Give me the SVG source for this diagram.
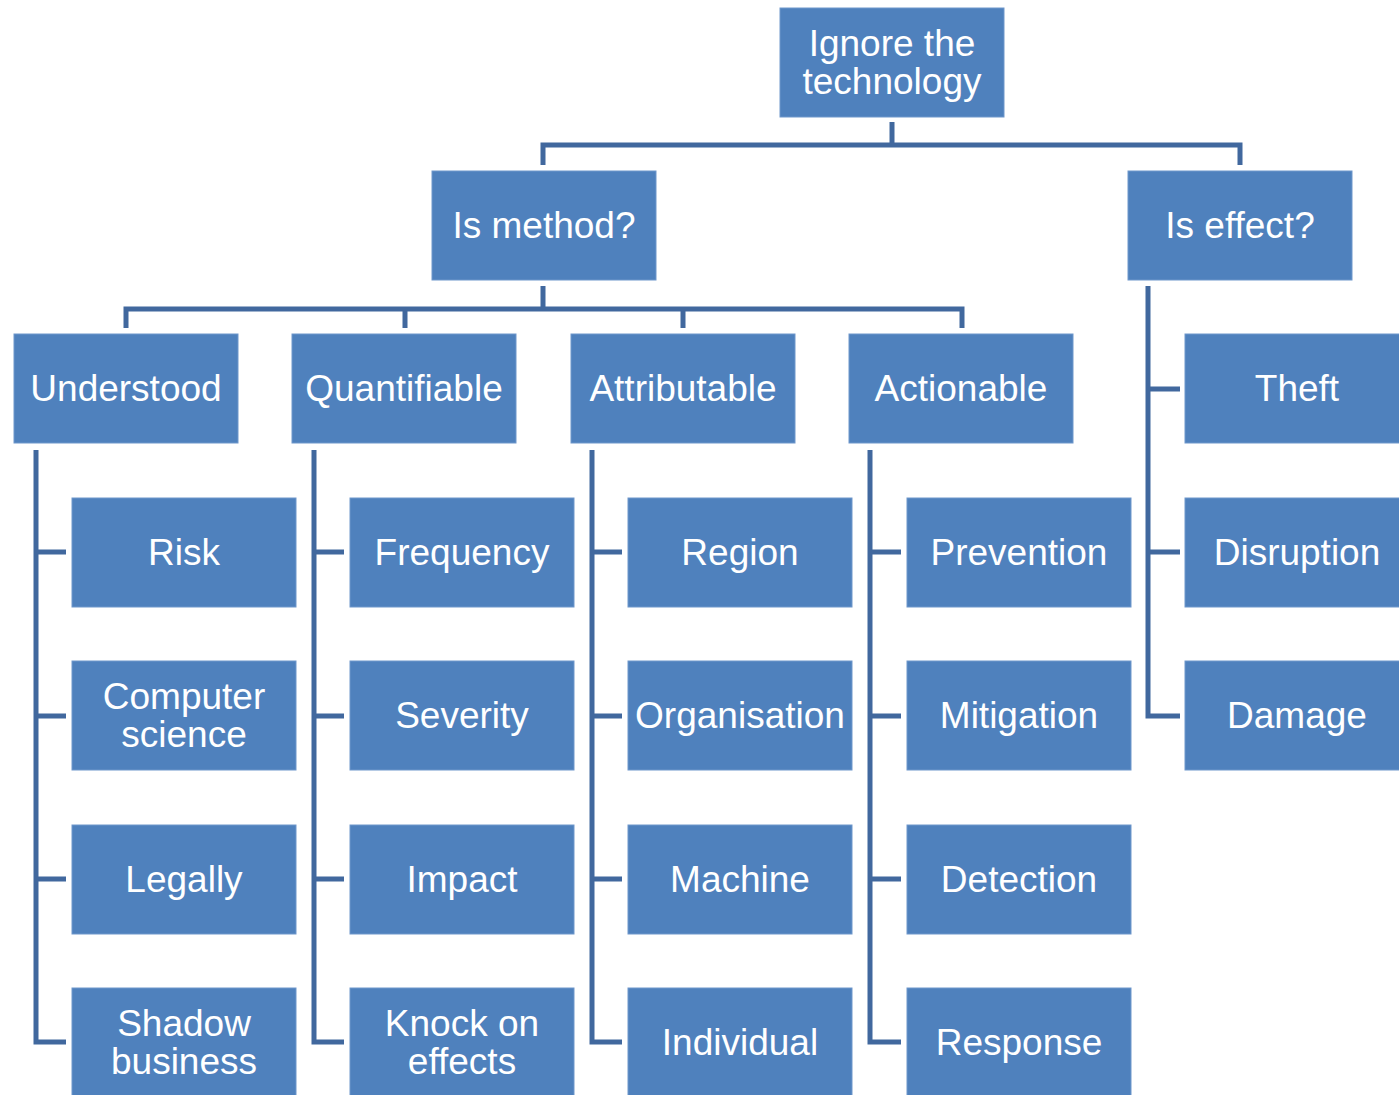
<svg xmlns="http://www.w3.org/2000/svg" width="1399" height="1095" viewBox="0 0 1399 1095">
<style>
.n rect{fill:#4f81bd;stroke:#6f97cb;stroke-width:1}
.n text{fill:#fff;font-family:"Liberation Sans",Arial,sans-serif;font-size:37px;text-anchor:middle}
#connectors path{fill:none;stroke:#41689e;stroke-width:5;stroke-linejoin:miter}
</style>
<rect width="1399" height="1095" fill="#fff"/>
<g id="connectors">
<path d="M892 122V145M543 165V145H1240V165"/>
<path d="M543 286V309M126 328V309H962V328M405 309V328M683 309V328"/>
<path d="M36 450V1042H66M36 552H66M36 716H66M36 879H66"/>
<path d="M314 450V1042H344M314 552H344M314 716H344M314 879H344"/>
<path d="M592 450V1042H622M592 552H622M592 716H622M592 879H622"/>
<path d="M870 450V1042H901M870 552H901M870 716H901M870 879H901"/>
<path d="M1148 286V716H1180M1148 389H1180M1148 552H1180"/>
</g>
<g id="n-root" class="n"><rect x="780" y="8" width="224" height="109"/><text x="892" y="56">Ignore the</text><text x="892" y="94">technology</text></g>
<g id="n-method" class="n"><rect x="432" y="171" width="224" height="109"/><text x="544" y="238">Is method?</text></g>
<g id="n-effect" class="n"><rect x="1128" y="171" width="224" height="109"/><text x="1240" y="238">Is effect?</text></g>
<g id="n-understood" class="n"><rect x="14" y="334" width="224" height="109"/><text x="126" y="401">Understood</text></g>
<g id="n-quantifiable" class="n"><rect x="292" y="334" width="224" height="109"/><text x="404" y="401">Quantifiable</text></g>
<g id="n-attributable" class="n"><rect x="571" y="334" width="224" height="109"/><text x="683" y="401">Attributable</text></g>
<g id="n-actionable" class="n"><rect x="849" y="334" width="224" height="109"/><text x="961" y="401">Actionable</text></g>
<g id="n-theft" class="n"><rect x="1185" y="334" width="224" height="109"/><text x="1297" y="401">Theft</text></g>
<g id="n-disruption" class="n"><rect x="1185" y="498" width="224" height="109"/><text x="1297" y="565">Disruption</text></g>
<g id="n-damage" class="n"><rect x="1185" y="661" width="224" height="109"/><text x="1297" y="728">Damage</text></g>
<g id="n-risk" class="n"><rect x="72" y="498" width="224" height="109"/><text x="184" y="565">Risk</text></g>
<g id="n-cs" class="n"><rect x="72" y="661" width="224" height="109"/><text x="184" y="709">Computer</text><text x="184" y="747">science</text></g>
<g id="n-legally" class="n"><rect x="72" y="825" width="224" height="109"/><text x="184" y="892">Legally</text></g>
<g id="n-shadow" class="n"><rect x="72" y="988" width="224" height="109"/><text x="184" y="1036">Shadow</text><text x="184" y="1074">business</text></g>
<g id="n-frequency" class="n"><rect x="350" y="498" width="224" height="109"/><text x="462" y="565">Frequency</text></g>
<g id="n-severity" class="n"><rect x="350" y="661" width="224" height="109"/><text x="462" y="728">Severity</text></g>
<g id="n-impact" class="n"><rect x="350" y="825" width="224" height="109"/><text x="462" y="892">Impact</text></g>
<g id="n-knock" class="n"><rect x="350" y="988" width="224" height="109"/><text x="462" y="1036">Knock on</text><text x="462" y="1074">effects</text></g>
<g id="n-region" class="n"><rect x="628" y="498" width="224" height="109"/><text x="740" y="565">Region</text></g>
<g id="n-organisation" class="n"><rect x="628" y="661" width="224" height="109"/><text x="740" y="728">Organisation</text></g>
<g id="n-machine" class="n"><rect x="628" y="825" width="224" height="109"/><text x="740" y="892">Machine</text></g>
<g id="n-individual" class="n"><rect x="628" y="988" width="224" height="109"/><text x="740" y="1055">Individual</text></g>
<g id="n-prevention" class="n"><rect x="907" y="498" width="224" height="109"/><text x="1019" y="565">Prevention</text></g>
<g id="n-mitigation" class="n"><rect x="907" y="661" width="224" height="109"/><text x="1019" y="728">Mitigation</text></g>
<g id="n-detection" class="n"><rect x="907" y="825" width="224" height="109"/><text x="1019" y="892">Detection</text></g>
<g id="n-response" class="n"><rect x="907" y="988" width="224" height="109"/><text x="1019" y="1055">Response</text></g>
</svg>
